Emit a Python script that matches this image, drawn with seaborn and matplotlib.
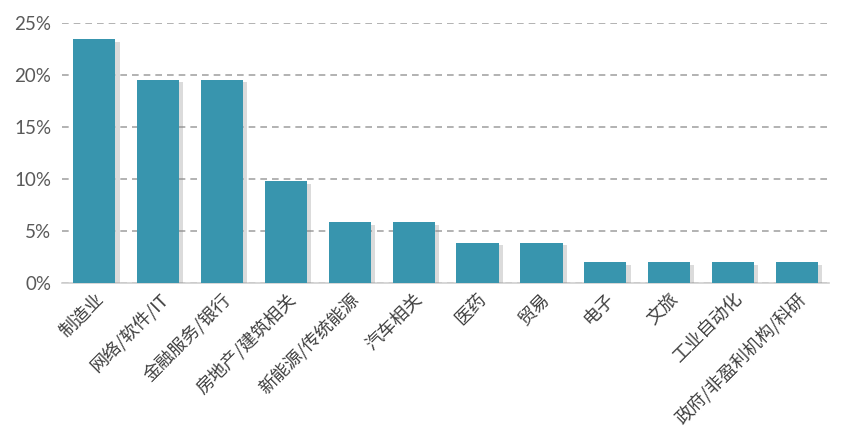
import matplotlib
matplotlib.use("Agg")
import matplotlib.pyplot as plt
import matplotlib.patheffects as pe
import seaborn as sns
import pandas as pd
from matplotlib.ticker import FuncFormatter, MultipleLocator

categories = ["制造业", "网络/软件/IT", "金融服务/银行", "房地产/建筑相关", "新能源/传统能源",
              "汽车相关", "医药", "贸易", "电子", "文旅", "工业自动化", "政府/非盈利机构/科研"]
values = [23.5, 19.6, 19.6, 9.8, 5.9, 5.9, 3.9, 3.9, 2.0, 2.0, 2.0, 2.0]

df = pd.DataFrame({"cat": categories, "val": values})

sns.set_theme(style="white")
plt.rcParams['font.family'] = ['Noto Sans CJK SC', 'DejaVu Sans']

fig = plt.figure(figsize=(8.44, 4.43), dpi=100)
ax = fig.add_axes([0.074, 0.361, 0.908, 0.586])

sns.barplot(data=df, x="cat", y="val", color="#3895AE", saturation=1, width=0.66,
            linewidth=0, ax=ax, zorder=3)
for p in ax.patches:
    p.set_path_effects([pe.SimplePatchShadow(offset=(3, -2), shadow_rgbFace="#8a8a8a", alpha=0.3), pe.Normal()])

ax.set_ylim(0, 25)
ax.yaxis.set_major_locator(MultipleLocator(5))
ax.yaxis.set_major_formatter(FuncFormatter(lambda v, _: f"{int(v)}%"))
ax.grid(axis="y", color="#A6A6A6", linestyle=(0, (4, 3)), linewidth=1.2, zorder=0)
ax.set_xlabel("")
ax.set_ylabel("")
for s in ["top", "right", "left"]:
    ax.spines[s].set_visible(False)
ax.spines["bottom"].set_color("#D0D0D0")
ax.spines["bottom"].set_linewidth(1.2)
ax.tick_params(axis="y", length=0, labelsize=13.5, labelcolor="#595959", pad=8)
ax.tick_params(axis="x", length=0, labelsize=13, labelcolor="#404040", pad=5)
for t in ax.get_yticklabels():
    t.set_fontfamily(['Lato', 'DejaVu Sans'])
ax.set_xlim(-0.5, len(categories) - 0.5)
plt.setp(ax.get_xticklabels(), rotation=45, ha="right", rotation_mode="anchor", fontweight="light")

fig.savefig("out.png", dpi=100, facecolor="white")
